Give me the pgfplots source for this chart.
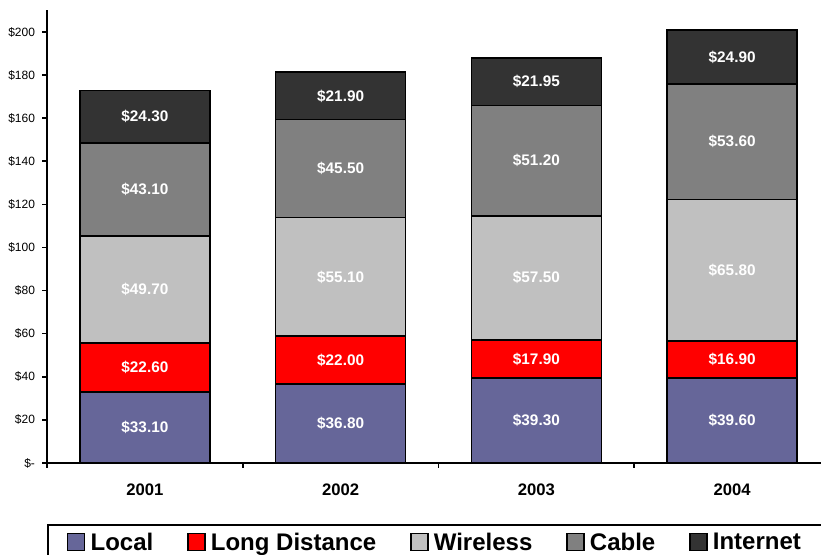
\documentclass[border=0pt]{standalone}
\usepackage{pgfplots}
\pgfplotsset{compat=1.18}
\usepackage{pgfplotstable}
\usepackage{fontspec}
\setmainfont{Liberation Sans}

\definecolor{localc}{RGB}{102,102,153}
\definecolor{distc}{RGB}{255,0,0}
\definecolor{wirelessc}{RGB}{192,192,192}
\definecolor{cablec}{RGB}{128,128,128}
\definecolor{internetc}{RGB}{51,51,51}

% monthly spending per household, by service
\pgfplotstableread{
idx local longdist wireless cable internet
0 33.10 22.60 49.70 43.10 24.30
1 36.80 22.00 55.10 45.50 21.90
2 39.30 17.90 57.50 51.20 21.95
3 39.60 16.90 65.80 53.60 24.90
}\spending

% axis geometry (pt)
\newcommand\axh{339.75}
\newcommand\ymaxv{210.2}

\pgfplotsset{
  segment/.style={fill=#1, draw=black, line width=1.3pt},
}

\begin{document}
\begin{tikzpicture}
\clip (0,0) rectangle (615.75pt,415.5pt);
\begin{axis}[
  at={(35.25pt,68.25pt)}, anchor=south west,
  scale only axis, width=587.25pt, height=\axh pt,
  ybar stacked, bar width=97.5pt,
  xmin=-0.5, xmax=3.5, ymin=0, ymax=\ymaxv,
  axis lines*=left,
  axis line style={line width=1.5pt,-},
  tick align=outside,
  tick style={black, line width=1.2pt},
  major tick length=3.5pt,
  xtick={-0.5,0.5,1.5,2.5,3.5},
  xticklabels={},
  extra x ticks={0,1,2,3},
  extra x tick labels={2001,2002,2003,2004},
  extra x tick style={major tick length=0pt,
    tick label style={font=\fontsize{12.5}{14}\selectfont\bfseries, yshift=-12pt}},
  ytick={0,20,...,200},
  yticklabels={\$-,\$20,\$40,\$60,\$80,\$100,\$120,\$140,\$160,\$180,\$200},
  yticklabel style={font=\fontsize{9}{10}\selectfont, xshift=-2pt},
  /pgf/number format/assume math mode=true,
  point meta=explicit,
  % value labels sit in the middle of each stacked segment
  nodes near coords={\$\pgfmathprintnumber[fixed,fixed zerofill,precision=2]{\pgfplotspointmeta}},
  every node near coord/.append style={font=\fontsize{11.5}{13}\selectfont\bfseries,
    text=white, anchor=center},
  legend columns=5,
  legend image code/.code={\draw[#1, draw=black, line width=1.2pt] (0pt,-6pt) rectangle (12.75pt,6.75pt);},
  legend style={at={(axis description cs:0,0)}, anchor=north west, yshift=-45.75pt,
    draw=black, line width=1.5pt, inner xsep=14pt, inner ysep=3.75pt,
    font=\fontsize{18}{20}\selectfont\bfseries,
    /tikz/every odd column/.append style={column sep=2pt},
    /tikz/every even column/.append style={column sep=23.25pt}},
]
\addplot[segment=localc]    table[x=idx, y=local,    meta=local]    {\spending};
\addplot[segment=distc]     table[x=idx, y=longdist, meta=longdist] {\spending};
\addplot[segment=wirelessc] table[x=idx, y=wireless, meta=wireless] {\spending};
\addplot[segment=cablec]    table[x=idx, y=cable,    meta=cable]    {\spending};
\addplot[segment=internetc] table[x=idx, y=internet, meta=internet] {\spending};
\legend{Local, Long Distance, Wireless, Cable, Internet}
\end{axis}
\end{tikzpicture}
\end{document}
